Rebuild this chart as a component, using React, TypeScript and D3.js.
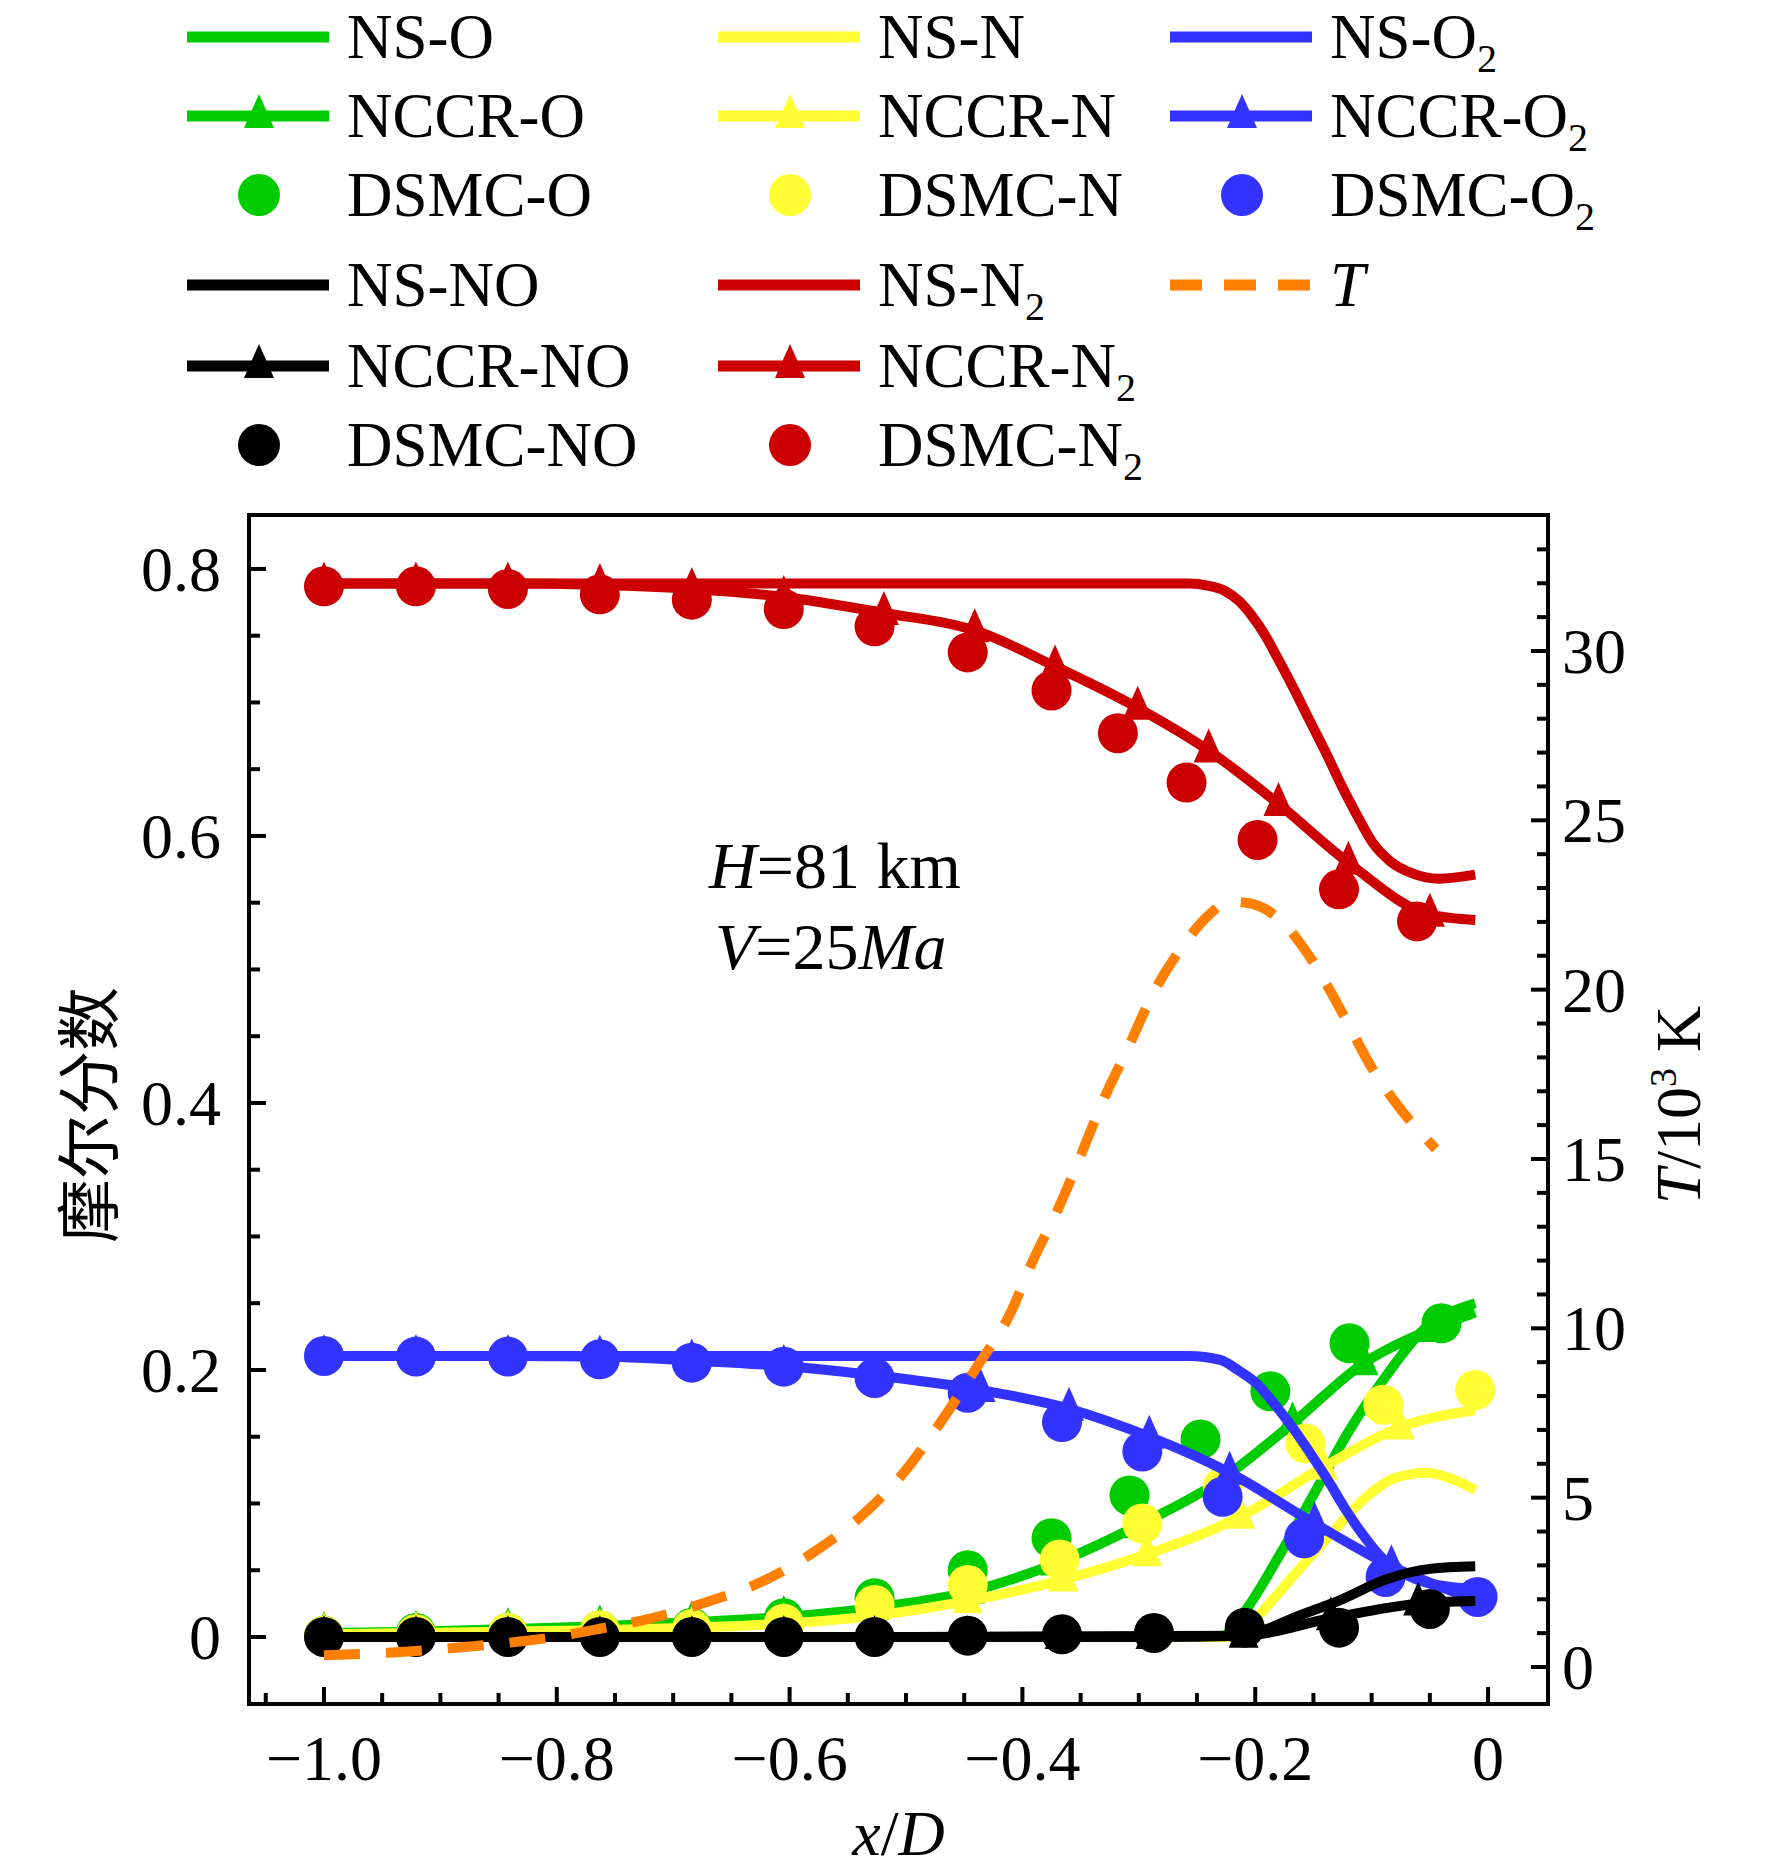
import { useEffect, useRef } from "react";
import * as d3 from "d3";

const WIDTH = 1772;
const HEIGHT = 1876;
const FRAME = { left: 249, right: 1548, top: 515, bottom: 1704 };
const SERIF = "'Liberation Serif', 'Times New Roman', serif";
const CJK = "'Noto Sans CJK SC', sans-serif";

// axes
const X_DOMAIN: [number, number] = [-1.0644, 0.0515];
const Y_DOMAIN: [number, number] = [-0.0502, 0.8404];
const T_DOMAIN: [number, number] = [-1.0925, 34.015];
const X_TICKS = [-1.0, -0.8, -0.6, -0.4, -0.2, 0];
const X_TICK_LABELS = ["−1.0", "−0.8", "−0.6", "−0.4", "−0.2", "0"];
const Y_TICKS = [0, 0.2, 0.4, 0.6, 0.8];
const Y_TICK_LABELS = ["0", "0.2", "0.4", "0.6", "0.8"];
const T_TICKS = [0, 5, 10, 15, 20, 25, 30];
const T_TICK_LABELS = ["0", "5", "10", "15", "20", "25", "30"];

// NS (solid lines)
const NS_O_X = [-1.0, -0.5, -0.23, -0.21, -0.18, -0.149, -0.119, -0.088, -0.058, -0.011];
const NS_O_Y = [0, 0, 0, 0.018, 0.06, 0.108, 0.155, 0.195, 0.228, 0.25];
const NS_N_X = [-1.0, -0.5, -0.215, -0.195, -0.165, -0.134, -0.107, -0.08, -0.053, -0.03, -0.011];
const NS_N_Y = [0, 0, 0, 0.018, 0.048, 0.078, 0.103, 0.119, 0.123, 0.118, 0.11];
const NS_O2_X = [-1.0, -0.5, -0.257, -0.23, -0.215, -0.199, -0.184, -0.168, -0.153, -0.138, -0.122, -0.107, -0.092, -0.073, -0.05, -0.011];
const NS_O2_Y = [0.2105, 0.2105, 0.2105, 0.2075, 0.2, 0.19, 0.175, 0.157, 0.138, 0.118, 0.095, 0.076, 0.06, 0.048, 0.04, 0.036];
const NS_NO_X = [-1.0, -0.5, -0.21, -0.19, -0.165, -0.126, -0.088, -0.05, -0.011];
const NS_NO_Y = [0, 0, 0.001, 0.006, 0.015, 0.028, 0.043, 0.051, 0.053];
const NS_N2_X = [-1.0, -0.5, -0.257, -0.241, -0.226, -0.214, -0.203, -0.192, -0.18, -0.165, -0.153, -0.138, -0.126, -0.111, -0.1, -0.084, -0.065, -0.042, -0.011];
const NS_N2_Y = [0.789, 0.789, 0.789, 0.7875, 0.7835, 0.776, 0.765, 0.751, 0.732, 0.707, 0.686, 0.66, 0.638, 0.613, 0.596, 0.581, 0.572, 0.568, 0.571];

// NCCR (lines with triangles; the last point is the wall end, no marker)
const NCCR_O_X = [-1.0, -0.921, -0.842, -0.763, -0.684, -0.605, -0.527, -0.445, -0.372, -0.302, -0.234, -0.168, -0.107, -0.05, -0.011];
const NCCR_O_Y = [0.003, 0.004, 0.006, 0.008, 0.011, 0.015, 0.022, 0.034, 0.055, 0.083, 0.115, 0.16, 0.205, 0.23, 0.243];
const NCCR_N_X = [-1.0, -0.921, -0.842, -0.763, -0.684, -0.605, -0.527, -0.447, -0.365, -0.293, -0.213, -0.142, -0.076, -0.011];
const NCCR_N_Y = [0.002, 0.003, 0.004, 0.005, 0.007, 0.01, 0.016, 0.027, 0.043, 0.062, 0.09, 0.127, 0.157, 0.17];
const NCCR_O2_X = [-1.0, -0.921, -0.842, -0.763, -0.684, -0.605, -0.527, -0.436, -0.36, -0.291, -0.222, -0.149, -0.083, -0.011];
const NCCR_O2_Y = [0.2105, 0.2105, 0.2105, 0.21, 0.207, 0.203, 0.196, 0.185, 0.171, 0.15, 0.123, 0.085, 0.053, 0.028];
const NCCR_NO_X = [-1.0, -0.921, -0.842, -0.763, -0.684, -0.605, -0.527, -0.447, -0.368, -0.29, -0.21, -0.135, -0.06, -0.011];
const NCCR_NO_Y = [0, 0, 0, 0, 0, 0, 0, 0, 0, 0, 0.001, 0.014, 0.025, 0.027];
const NCCR_N2_X = [-1.0, -0.921, -0.842, -0.763, -0.684, -0.605, -0.519, -0.441, -0.372, -0.301, -0.24, -0.18, -0.12, -0.05, -0.011];
const NCCR_N2_Y = [0.789, 0.789, 0.789, 0.788, 0.785, 0.779, 0.767, 0.754, 0.727, 0.696, 0.664, 0.624, 0.58, 0.541, 0.537];

// DSMC (circles)
const DSMC_O_X = [-1.0, -0.921, -0.842, -0.763, -0.684, -0.605, -0.527, -0.447, -0.375, -0.308, -0.247, -0.187, -0.119, -0.04];
const DSMC_O_Y = [0.001, 0.003, 0.003, 0.005, 0.007, 0.014, 0.029, 0.05, 0.074, 0.106, 0.148, 0.184, 0.22, 0.235];
const DSMC_N_X = [-1.0, -0.921, -0.842, -0.763, -0.684, -0.605, -0.527, -0.447, -0.368, -0.297, -0.228, -0.157, -0.09, -0.011];
const DSMC_N_Y = [0.001, 0.002, 0.003, 0.005, 0.006, 0.01, 0.024, 0.039, 0.058, 0.085, 0.112, 0.145, 0.174, 0.185];
const DSMC_O2_X = [-1.0, -0.921, -0.842, -0.763, -0.684, -0.605, -0.527, -0.447, -0.366, -0.297, -0.228, -0.158, -0.088, -0.009];
const DSMC_O2_Y = [0.2105, 0.21, 0.21, 0.208, 0.2055, 0.2025, 0.194, 0.183, 0.161, 0.139, 0.105, 0.074, 0.045, 0.03];
const DSMC_NO_X = [-1.0, -0.921, -0.842, -0.763, -0.684, -0.605, -0.527, -0.447, -0.366, -0.287, -0.209, -0.128, -0.05];
const DSMC_NO_Y = [0, 0, 0, 0, 0, 0, 0, 0.001, 0.002, 0.003, 0.007, 0.007, 0.021];
const DSMC_N2_X = [-1.0, -0.921, -0.842, -0.763, -0.684, -0.605, -0.527, -0.447, -0.375, -0.318, -0.259, -0.198, -0.128, -0.061];
const DSMC_N2_Y = [0.787, 0.787, 0.785, 0.781, 0.777, 0.77, 0.757, 0.7375, 0.709, 0.677, 0.64, 0.597, 0.56, 0.536];

// temperature, 10^3 K (right axis)
const T_X = [-1.0, -0.945, -0.9, -0.855, -0.809, -0.763, -0.717, -0.671, -0.625, -0.581, -0.537, -0.5, -0.47, -0.439, -0.411, -0.391, -0.369, -0.35, -0.331, -0.309, -0.289, -0.262, -0.24, -0.222, -0.205, -0.18, -0.15, -0.125, -0.1, -0.078, -0.045];
const T_V = [0.35, 0.42, 0.53, 0.67, 0.85, 1.13, 1.45, 1.92, 2.5, 3.35, 4.5, 5.82, 7.24, 8.87, 10.4, 12.0, 13.55, 15.1, 16.7, 18.3, 19.8, 21.3, 22.2, 22.6, 22.55, 22.1, 20.8, 19.3, 17.7, 16.6, 15.3];

const T_COLOR = "#ff8000";

type Pair = [number[], number[]];
interface Species {
  id: string;
  name: string;
  sub: string;
  color: string;
  ns: Pair;
  nccr: Pair;
  dsmc: Pair;
}

// drawing order matters: later species sit on top
const SPECIES: Species[] = [
  { id: "O", name: "O", sub: "", color: "#00cc00", ns: [NS_O_X, NS_O_Y], nccr: [NCCR_O_X, NCCR_O_Y], dsmc: [DSMC_O_X, DSMC_O_Y] },
  { id: "N", name: "N", sub: "", color: "#ffff33", ns: [NS_N_X, NS_N_Y], nccr: [NCCR_N_X, NCCR_N_Y], dsmc: [DSMC_N_X, DSMC_N_Y] },
  { id: "O2", name: "O", sub: "2", color: "#3333ff", ns: [NS_O2_X, NS_O2_Y], nccr: [NCCR_O2_X, NCCR_O2_Y], dsmc: [DSMC_O2_X, DSMC_O2_Y] },
  { id: "NO", name: "NO", sub: "", color: "#000000", ns: [NS_NO_X, NS_NO_Y], nccr: [NCCR_NO_X, NCCR_NO_Y], dsmc: [DSMC_NO_X, DSMC_NO_Y] },
  { id: "N2", name: "N", sub: "2", color: "#cc0000", ns: [NS_N2_X, NS_N2_Y], nccr: [NCCR_N2_X, NCCR_N2_Y], dsmc: [DSMC_N2_X, DSMC_N2_Y] },
];

const LEGEND: string[][][] = [
  [["ns", "O"], ["ns", "N"], ["ns", "O2"]],
  [["nccr", "O"], ["nccr", "N"], ["nccr", "O2"]],
  [["dsmc", "O"], ["dsmc", "N"], ["dsmc", "O2"]],
  [["ns", "NO"], ["ns", "N2"], ["T", ""]],
  [["nccr", "NO"], ["nccr", "N2"]],
  [["dsmc", "NO"], ["dsmc", "N2"]],
];
const LEGEND_BASELINES = [58, 137, 216, 306, 387, 466];
const LEGEND_COLS = [187, 718, 1170];
const PREFIX: Record<string, string> = { ns: "NS-", nccr: "NCCR-", dsmc: "DSMC-" };

const LINE_W = 10;
const DOT_R = 20;
const TRI = "M0,-22L15,12L-15,12Z";

const zip = ([xs, ys]: Pair) => xs.map((x, i) => [x, ys[i]] as [number, number]);

export default function App() {
  const svgRef = useRef<SVGSVGElement>(null);

  useEffect(() => {
    if (!svgRef.current) return;
    const svg = d3.select(svgRef.current);
    svg.selectAll("*").remove();

    const x = d3.scaleLinear().domain(X_DOMAIN).range([FRAME.left, FRAME.right]);
    const y = d3.scaleLinear().domain(Y_DOMAIN).range([FRAME.bottom, FRAME.top]);
    const t = d3.scaleLinear().domain(T_DOMAIN).range([FRAME.bottom, FRAME.top]);

    const line = d3.line<[number, number]>()
      .x((d) => x(d[0]))
      .y((d) => y(d[1]))
      .curve(d3.curveMonotoneX);

    const label = (
      sel: d3.Selection<any, unknown, null, undefined>,
      px: number, py: number, main: string, sub: string, italic = false
    ) => {
      const tx = sel.append("text")
        .attr("x", px).attr("y", py)
        .attr("font-family", SERIF).attr("font-size", 63).attr("fill", "#000");
      tx.append("tspan").attr("font-style", italic ? "italic" : "normal").text(main);
      if (sub) tx.append("tspan").attr("font-size", 40).attr("dy", 14).text(sub);
    };

    // ---- legend ----
    const lg = svg.append("g");
    LEGEND.forEach((row, r) => {
      row.forEach(([kind, id], c) => {
        const x0 = LEGEND_COLS[c];
        const base = LEGEND_BASELINES[r];
        const my = base - 21;
        if (kind === "T") {
          lg.append("line")
            .attr("x1", x0).attr("x2", x0 + 142).attr("y1", my).attr("y2", my)
            .attr("stroke", T_COLOR).attr("stroke-width", 11).attr("stroke-dasharray", "32 22");
          label(lg, x0 + 160, base, "T", "", true);
          return;
        }
        const sp = SPECIES.find((s) => s.id === id)!;
        if (kind !== "dsmc") {
          lg.append("line")
            .attr("x1", x0).attr("x2", x0 + 142).attr("y1", my).attr("y2", my)
            .attr("stroke", sp.color).attr("stroke-width", 11);
        }
        if (kind === "nccr") {
          lg.append("path").attr("d", TRI)
            .attr("transform", `translate(${x0 + 72},${my})`).attr("fill", sp.color);
        }
        if (kind === "dsmc") {
          lg.append("circle").attr("cx", x0 + 72).attr("cy", my).attr("r", 21).attr("fill", sp.color);
        }
        label(lg, x0 + 160, base, PREFIX[kind] + sp.name, sp.sub);
      });
    });

    // ---- data ----
    const plot = svg.append("g");
    SPECIES.forEach((sp) => {
      plot.append("path").datum(zip(sp.ns))
        .attr("fill", "none").attr("stroke", sp.color).attr("stroke-width", LINE_W)
        .attr("stroke-linejoin", "round").attr("d", line);

      const nccr = zip(sp.nccr);
      plot.append("path").datum(nccr)
        .attr("fill", "none").attr("stroke", sp.color).attr("stroke-width", LINE_W)
        .attr("stroke-linejoin", "round").attr("d", line);
      plot.selectAll(null).data(nccr.slice(0, -1)).enter()
        .append("path").attr("d", TRI)
        .attr("transform", (d) => `translate(${x(d[0])},${y(d[1])})`)
        .attr("fill", sp.color);

      plot.selectAll(null).data(zip(sp.dsmc)).enter()
        .append("circle")
        .attr("cx", (d) => x(d[0])).attr("cy", (d) => y(d[1]))
        .attr("r", DOT_R).attr("fill", sp.color);
    });

    const tLine = d3.line<[number, number]>()
      .x((d) => x(d[0]))
      .y((d) => t(d[1]))
      .curve(d3.curveMonotoneX);
    plot.append("path").datum(zip([T_X, T_V]))
      .attr("fill", "none").attr("stroke", T_COLOR).attr("stroke-width", 10)
      .attr("stroke-dasharray", "36 26").attr("d", tLine);

    // ---- frame and ticks ----
    const ax = svg.append("g").attr("stroke", "#000").attr("stroke-width", 4);
    ax.append("rect")
      .attr("x", FRAME.left).attr("y", FRAME.top)
      .attr("width", FRAME.right - FRAME.left).attr("height", FRAME.bottom - FRAME.top)
      .attr("fill", "none");

    const xMinor = d3.range(-21, 1).map((i) => i * 0.05);
    xMinor.forEach((v) => {
      const major = X_TICKS.some((m) => Math.abs(m - v) < 1e-6);
      ax.append("line").attr("x1", x(v)).attr("x2", x(v))
        .attr("y1", FRAME.bottom).attr("y2", FRAME.bottom - (major ? 17 : 11));
    });
    const yMinor = d3.range(0, 17).map((i) => i * 0.05);
    yMinor.forEach((v) => {
      const major = Y_TICKS.some((m) => Math.abs(m - v) < 1e-6);
      ax.append("line").attr("y1", y(v)).attr("y2", y(v))
        .attr("x1", FRAME.left).attr("x2", FRAME.left + (major ? 17 : 11));
    });
    const tMinor = d3.range(0, 34);
    tMinor.forEach((v) => {
      const major = v % 5 === 0;
      ax.append("line").attr("y1", t(v)).attr("y2", t(v))
        .attr("x1", FRAME.right).attr("x2", FRAME.right - (major ? 17 : 11));
    });

    const txt = svg.append("g").attr("font-family", SERIF).attr("font-size", 64).attr("fill", "#000");
    X_TICKS.forEach((v, i) => {
      txt.append("text").attr("x", x(v)).attr("y", 1780).attr("text-anchor", "middle").text(X_TICK_LABELS[i]);
    });
    Y_TICKS.forEach((v, i) => {
      txt.append("text").attr("x", FRAME.left - 28).attr("y", y(v) + 22).attr("text-anchor", "end").text(Y_TICK_LABELS[i]);
    });
    T_TICKS.forEach((v, i) => {
      txt.append("text").attr("x", FRAME.right + 14).attr("y", t(v) + 22).attr("text-anchor", "start").text(T_TICK_LABELS[i]);
    });

    // axis titles
    const xt = txt.append("text").attr("x", (FRAME.left + FRAME.right) / 2).attr("y", 1855).attr("text-anchor", "middle");
    xt.append("tspan").attr("font-style", "italic").text("x");
    xt.append("tspan").text("/");
    xt.append("tspan").attr("font-style", "italic").text("D");

    svg.append("text")
      .attr("transform", `translate(84,1115) rotate(-90)`)
      .attr("text-anchor", "middle").attr("dominant-baseline", "central")
      .attr("font-family", CJK).attr("font-size", 64).attr("fill", "#000")
      .text("摩尔分数");

    const rt = txt.append("text")
      .attr("transform", `translate(1700,1105) rotate(-90)`)
      .attr("text-anchor", "middle");
    rt.append("tspan").attr("font-style", "italic").text("T");
    rt.append("tspan").text("/10");
    rt.append("tspan").attr("font-size", 38).attr("dy", -24).text("3");
    rt.append("tspan").attr("dy", 24).text(" K");

    // flow condition note
    const n1 = txt.append("text").attr("x", 709).attr("y", 888).attr("font-size", 66);
    n1.append("tspan").attr("font-style", "italic").text("H");
    n1.append("tspan").text("=81 km");
    const n2 = txt.append("text").attr("x", 715).attr("y", 969).attr("font-size", 66);
    n2.append("tspan").attr("font-style", "italic").text("V");
    n2.append("tspan").text("=25");
    n2.append("tspan").attr("font-style", "italic").text("Ma");
  }, []);

  return (
    <div style={{ position: "absolute", left: 0, top: 0, width: WIDTH, height: HEIGHT, background: "#fff" }}>
      <svg ref={svgRef} width={WIDTH} height={HEIGHT} />
    </div>
  );
}
